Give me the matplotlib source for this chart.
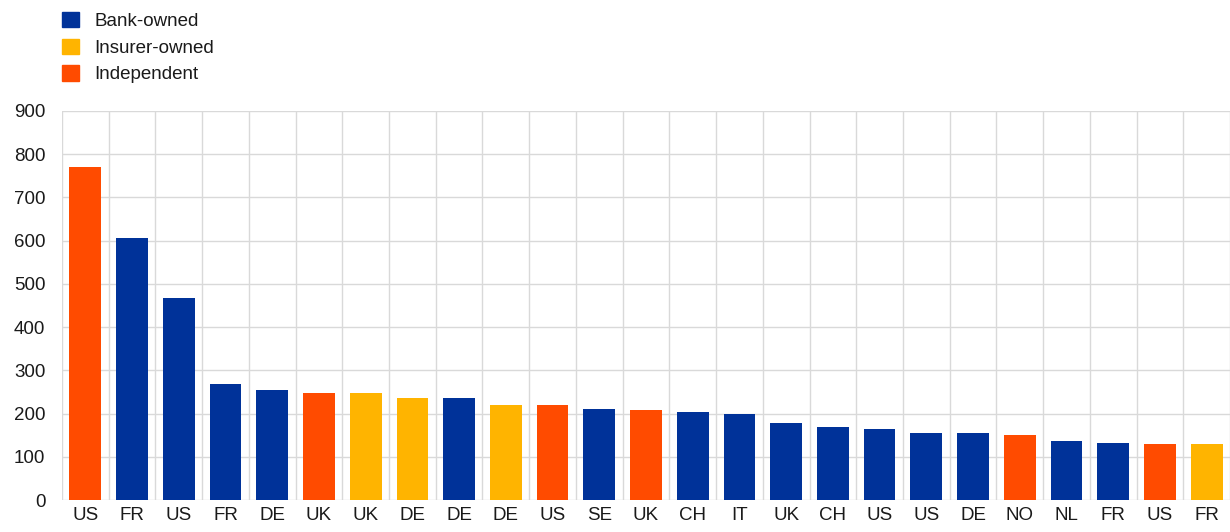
import matplotlib.pyplot as plt
import numpy as np
from matplotlib.patches import Patch

plt.rcParams['font.family'] = ['Liberation Sans', 'DejaVu Sans']

countries = ['US', 'FR', 'US', 'FR', 'DE', 'UK', 'UK', 'DE', 'DE', 'DE', 'US', 'SE', 'UK',
             'CH', 'IT', 'UK', 'CH', 'US', 'US', 'DE', 'NO', 'NL', 'FR', 'US', 'FR']
values = [770, 607, 468, 268, 254, 248, 248, 236, 236, 220, 219, 210, 209,
          203, 198, 178, 168, 164, 156, 156, 150, 137, 132, 130, 130]
owner = ['Independent', 'Bank-owned', 'Bank-owned', 'Bank-owned', 'Bank-owned', 'Independent',
         'Insurer-owned', 'Insurer-owned', 'Bank-owned', 'Insurer-owned', 'Independent',
         'Bank-owned', 'Independent', 'Bank-owned', 'Bank-owned', 'Bank-owned', 'Bank-owned',
         'Bank-owned', 'Bank-owned', 'Bank-owned', 'Independent', 'Bank-owned', 'Bank-owned',
         'Independent', 'Insurer-owned']
groups = ['Bank-owned', 'Insurer-owned', 'Independent']
colours = {'Bank-owned': '#003299', 'Insurer-owned': '#FFB400', 'Independent': '#FF4B00'}

fig = plt.figure(figsize=(12.3, 5.32), dpi=100)
ax = fig.add_axes([0.0504, 0.06, 0.9496, 0.7314])

x = np.arange(len(values))
ax.bar(x, values, width=0.68, color=[colours[o] for o in owner], zorder=3)

ax.set_xlim(-0.5, len(values) - 0.5)
ax.set_ylim(0, 900)
ax.set_yticks(range(0, 901, 100))
ax.set_xticks(x)
ax.set_xticklabels(countries)
ax.set_xticks(np.arange(-0.5, len(values), 1), minor=True)
ax.tick_params(axis='x', which='minor', length=0)
ax.tick_params(length=0, labelsize=13.5, colors='#1a1a1a', pad=5)
ax.tick_params(axis='y', pad=12)
ax.grid(which='minor', axis='x', color='#d9d9d9', lw=1, zorder=0)
ax.grid(which='major', axis='y', color='#d9d9d9', lw=1, zorder=0)
for s in ax.spines.values():
    s.set_visible(False)

handles = [Patch(color=colours[g], label=g) for g in groups]
leg = fig.legend(handles=handles, loc='upper left', bbox_to_anchor=(0.037, 1.0094), frameon=False,
                 fontsize=13.5, handlelength=0.9, handleheight=0.9, labelspacing=0.45,
                 handletextpad=0.8)
for t in leg.get_texts():
    t.set_color('#1a1a1a')

fig.savefig('out.png', dpi=100)
